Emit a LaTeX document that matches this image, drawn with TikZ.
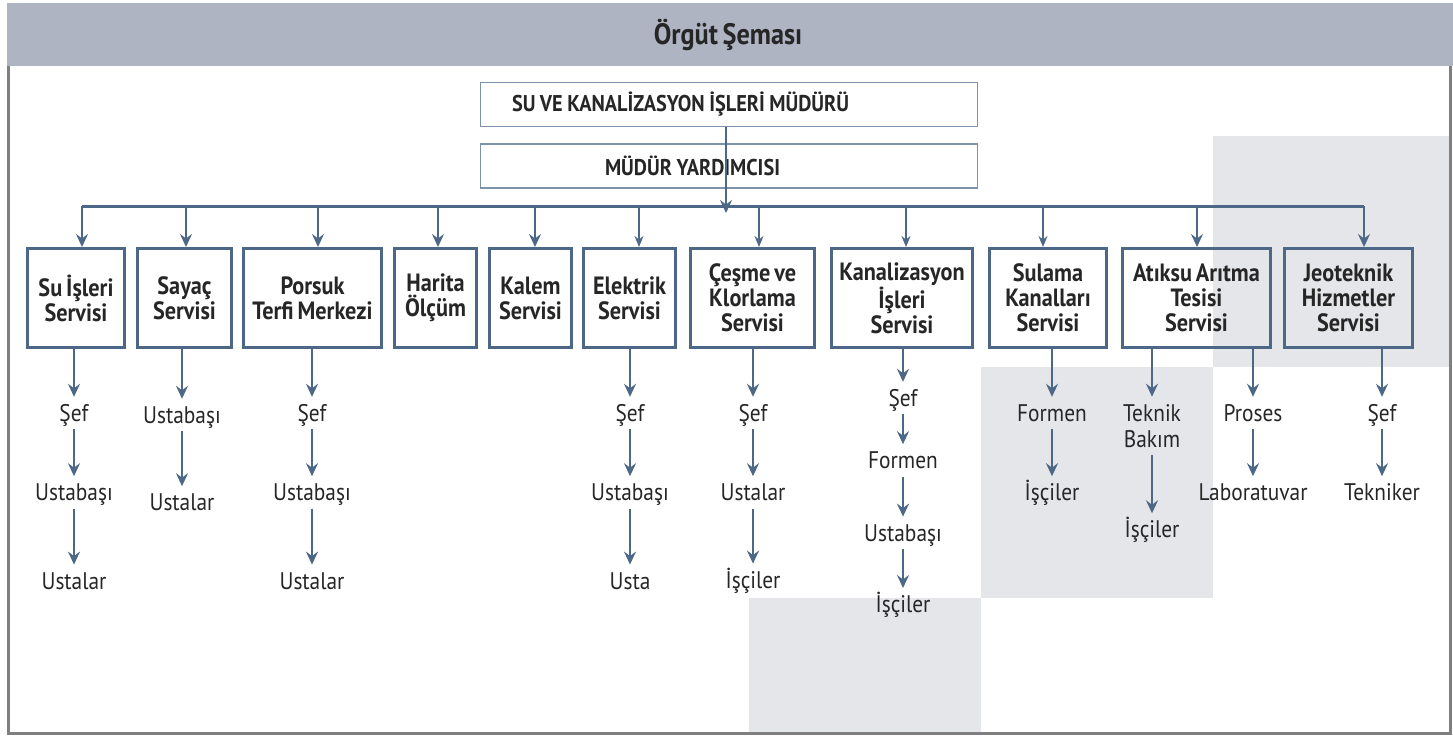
\documentclass[tikz,border=0pt]{standalone}
\usepackage{fontspec}
\setmainfont[FakeStretch=0.89,WordSpace=0.7]{PT Sans}
\usetikzlibrary{arrows.meta,positioning}
\definecolor{band}{HTML}{AEB4C2}
\definecolor{greyfill}{HTML}{E5E6EA}
\definecolor{lineblue}{HTML}{4D6887}
\definecolor{topline}{HTML}{7C93AB}
\definecolor{framegray}{HTML}{7F7F7F}
\definecolor{ink}{HTML}{262626}

\begin{document}
\begin{tikzpicture}[
    x=1pt, y=-1pt,
    node distance=47pt and 10pt,
    topbox/.style={draw=topline, line width=1.2pt, minimum height=44pt, align=left, text=ink, font=\fontsize{22.8}{24}\selectfont\bfseries, execute at begin node={\spaceskip4.5pt\relax}},
    svc/.style={draw=lineblue, line width=3pt, minimum height=99pt, inner sep=2pt, align=center, text=ink, font=\fontsize{25}{25}\selectfont\bfseries},
    sub/.style={inner xsep=2pt, inner ysep=7.5pt, text height=17pt, text depth=0pt, text=ink, font=\fontsize{24}{26}\selectfont},
    subtwo/.style={inner xsep=2pt, inner ysep=7.5pt, align=center, text=ink, font=\fontsize{24}{26}\selectfont},
    arrow/.style={-{Stealth[length=13pt, width=12pt, inset=4.5pt]}, line width=2.8pt, draw=lineblue},
    thinarrow/.style={-{Stealth[length=11pt, width=9pt, inset=3.5pt]}, line width=1.5pt, draw=lineblue},
    bus/.style={line width=3pt, draw=lineblue}
  ]
    \useasboundingbox (0,0) rectangle (1453,736);
    \fill[greyfill] (1213,136) rectangle (1449,367);
    \fill[greyfill] (981,367) rectangle (1213,598);
    \fill[greyfill] (749,598) rectangle (981,732);
    \fill[band] (7,3) rectangle (1453,66);
    \draw[framegray, line width=3pt] (8,66) -- (8,733) -- (1450,733) -- (1450,66);
    \node[text=ink, font=\fontsize{29.5}{32}\selectfont\bfseries] (title) at (728,35) {Örgüt Şeması};

    \node[topbox, minimum width=497pt, text width=434pt, inner xsep=31.4pt] (mgr) at (729,104.5) {SU VE KANALİZASYON İŞLERİ MÜDÜRÜ};
    \node[topbox, minimum width=497pt, text width=248pt, inner xsep=124.4pt] (yrd) at (729,166) {MÜDÜR YARDIMCISI};

    \node[svc, minimum width=97pt] (su) at (76,298) {Su İşleri\\Servisi};
    \node[svc, minimum width=94pt, right=of su] (sayac) {Sayaç\\Servisi};
    \node[svc, minimum width=138pt, right=9pt of sayac] (porsuk) {Porsuk\\Terfi Merkezi};
    \node[svc, minimum width=82pt, right=of porsuk] (harita) {Harita\\Ölçüm};
    \node[svc, minimum width=82pt, right=of harita] (kalem) {Kalem\\Servisi};
    \node[svc, minimum width=92pt, right=9pt of kalem] (elektrik) {Elektrik\\Servisi};
    \node[svc, minimum width=124pt, right=12pt of elektrik] (cesme) {Çeşme ve\\Klorlama\\Servisi};
    \node[svc, minimum width=141pt, right=14pt of cesme] (kanal) {Kanalizasyon\\İşleri\\Servisi};
    \node[svc, minimum width=117pt, right=14pt of kanal] (sulama) {Sulama\\Kanalları\\Servisi};
    \node[svc, minimum width=148pt, right=13pt of sulama] (atiksu) {Atıksu Arıtma\\Tesisi\\Servisi};
    \node[svc, minimum width=128pt, right=11pt of atiksu] (jeo) {Jeoteknik\\Hizmetler\\Servisi};

    \coordinate (hub) at (726,213);
    \coordinate (b1) at (82,206);
    \coordinate (b2) at (186,206);
    \coordinate (b3) at (318,206);
    \coordinate (b4) at (438,206);
    \coordinate (b5) at (535,206);
    \coordinate (b6) at (639,206);
    \coordinate (b7) at (759,206);
    \coordinate (b8) at (906,206);
    \coordinate (b9) at (1043,206);
    \coordinate (b10) at (1197,206);
    \coordinate (b11) at (1364,206);

    \draw[bus] (b1) -- (b11);
    \draw[arrow] (mgr.south -| hub) -- (hub);
    \draw[arrow] (b1) -- (b1 |- su.north);
    \draw[arrow] (b2) -- (b2 |- sayac.north);
    \draw[arrow] (b3) -- (b3 |- porsuk.north);
    \draw[arrow] (b4) -- (b4 |- harita.north);
    \draw[arrow] (b5) -- (b5 |- kalem.north);
    \draw[thinarrow] (b6) -- (b6 |- elektrik.north);
    \draw[thinarrow] (b7) -- (b7 |- cesme.north);
    \draw[thinarrow] (b8) -- (b8 |- kanal.north);
    \draw[thinarrow] (b9) -- (b9 |- sulama.north);
    \draw[arrow] (b10) -- (b10 |- atiksu.north);
    \draw[arrow] (b11) -- (b11 |- jeo.north);

    \node[sub] (su1) at (74,413) {Şef};
    \node[sub, below=of su1] (su2) {Ustabaşı};
    \node[sub, below=56pt of su2] (su3) {Ustalar};
    \draw[arrow] (su.south -| su1) -- (su1);
    \draw[arrow] (su1) -- (su2);
    \draw[arrow] (su2) -- (su3);

    \node[sub] (sy1) at (182,415) {Ustabaşı};
    \node[sub, below=55pt of sy1] (sy2) {Ustalar};
    \draw[arrow] (sayac.south -| sy1) -- (sy1);
    \draw[arrow] (sy1) -- (sy2);

    \node[sub] (po1) at (312,413) {Şef};
    \node[sub, below=of po1] (po2) {Ustabaşı};
    \node[sub, below=56pt of po2] (po3) {Ustalar};
    \draw[arrow] (porsuk.south -| po1) -- (po1);
    \draw[arrow] (po1) -- (po2);
    \draw[arrow] (po2) -- (po3);

    \node[sub] (el1) at (630,413) {Şef};
    \node[sub, below=of el1] (el2) {Ustabaşı};
    \node[sub, below=56pt of el2] (el3) {Usta};
    \draw[arrow] (elektrik.south -| el1) -- (el1);
    \draw[arrow] (el1) -- (el2);
    \draw[arrow] (el2) -- (el3);

    \node[sub] (ce1) at (753,413) {Şef};
    \node[sub, below=of ce1] (ce2) {Ustalar};
    \node[sub, below=55pt of ce2] (ce3) {İşçiler};
    \draw[arrow] (cesme.south -| ce1) -- (ce1);
    \draw[arrow] (ce1) -- (ce2);
    \draw[arrow] (ce2) -- (ce3);

    \node[sub] (ka1) at (903,398) {Şef};
    \node[sub, below=30pt of ka1] (ka2) {Formen};
    \node[sub, below=40pt of ka2] (ka3) {Ustabaşı};
    \node[sub, below=39pt of ka3] (ka4) {İşçiler};
    \draw[arrow] (kanal.south -| ka1) -- (ka1);
    \draw[arrow] (ka1) -- (ka2);
    \draw[arrow] (ka2) -- (ka3);
    \draw[arrow] (ka3) -- (ka4);

    \node[sub] (sl1) at (1052,413) {Formen};
    \node[sub, below=of sl1] (sl2) {İşçiler};
    \draw[arrow] (sulama.south -| sl1) -- (sl1);
    \draw[arrow] (sl1) -- (sl2);

    \node[subtwo] (at1) at (1152,426) {Teknik\\Bakım};
    \node[sub, below=58pt of at1] (at2) {İşçiler};
    \node[sub] (at3) at (1253,413) {Proses};
    \node[sub, below=of at3] (at4) {Laboratuvar};
    \draw[arrow] (atiksu.south -| at1) -- (at1);
    \draw[arrow] (at1) -- (at2);
    \draw[arrow] (atiksu.south -| at3) -- (at3);
    \draw[arrow] (at3) -- (at4);

    \node[sub] (je1) at (1382,413) {Şef};
    \node[sub, below=of je1] (je2) {Tekniker};
    \draw[arrow] (jeo.south -| je1) -- (je1);
    \draw[arrow] (je1) -- (je2);
\end{tikzpicture}
\end{document}
